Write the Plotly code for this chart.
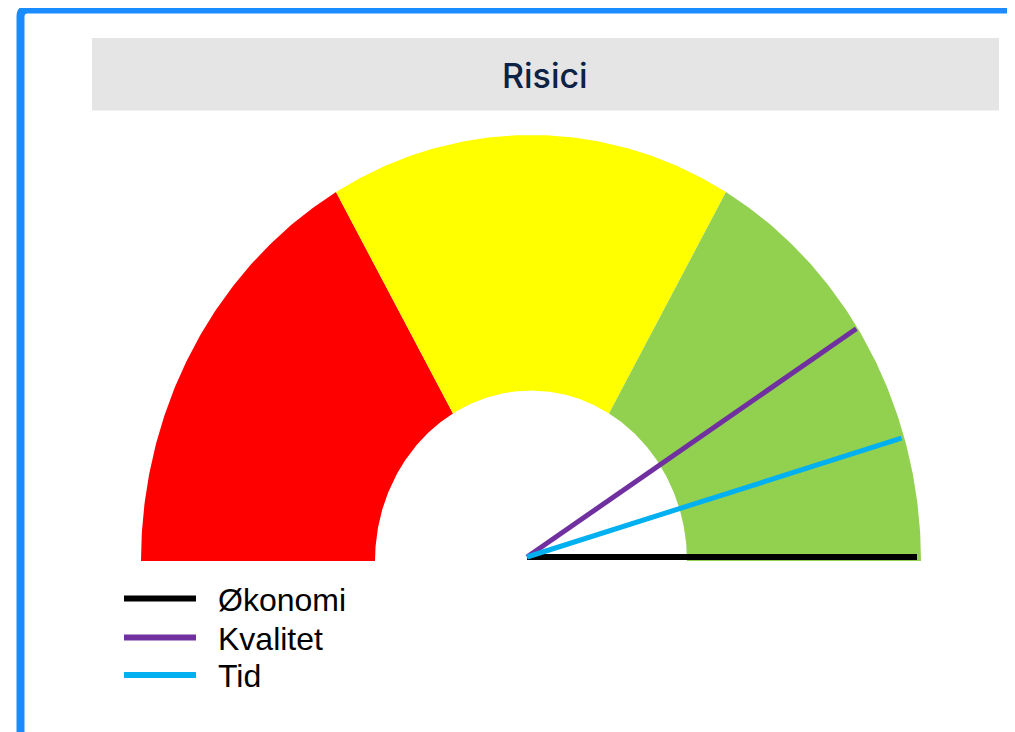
import numpy as np
import plotly.graph_objects as go

# ---- data ----
title_text = "Risici"
band_edges = [0, 100 / 3, 200 / 3, 100]          # gauge scale 0..100
band_colors = ["#ff0000", "#ffff00", "#92d050"]
needle_names = ["Økonomi", "Kvalitet", "Tid"]
needle_values = [100, 82, 91]
needle_colors = ["#000000", "#7030a0", "#00b0f0"]

# ---- layout geometry (pixels, in screenshot coordinates) ----
W, H = 1015, 732
OFF = 8                    # page body margin offset
CX, CY = 531 - OFF, 561 - OFF   # gauge centre in figure pixels
RX, RY = 390, 426          # px per unit radius (horizontal / vertical)
HOLE = 0.4
PIVOT_DX, PIVOT_DY = -4 / RX, 4 / RY


def val_to_angle(v):
    return np.pi * (1 - v / 100.0)


fig = go.Figure()

# bands
for i, col in enumerate(band_colors):
    a0, a1 = val_to_angle(band_edges[i]), val_to_angle(band_edges[i + 1])
    t = np.linspace(a0, a1, 120)
    xs = np.concatenate([np.cos(t), HOLE * np.cos(t[::-1])])
    ys = np.concatenate([np.sin(t), HOLE * np.sin(t[::-1])])
    fig.add_trace(go.Scatter(x=xs, y=ys, fill="toself", fillcolor=col,
                             mode="lines", line=dict(width=0, color=col),
                             hoverinfo="skip", showlegend=False))

# needles
for name, v, col in zip(needle_names, needle_values, needle_colors):
    a = val_to_angle(v)
    lw = 6 if col == "#000000" else 5
    fig.add_trace(go.Scatter(x=[PIVOT_DX, PIVOT_DX + np.cos(a)],
                             y=[PIVOT_DY, PIVOT_DY + np.sin(a)],
                             mode="lines", name=name,
                             line=dict(color=col, width=lw),
                             showlegend=False))


def px(x):
    return (x - OFF) / W


def py(y):
    return 1 - (y - OFF) / H


shapes = []
# blue frame (left + top, rounded corner)
bx, by, r = 20.5, 9.5, 7
shapes.append(dict(
    type="path", xref="paper", yref="paper",
    path=(f"M {px(bx)},{py(H + 40)} L {px(bx)},{py(by + r)} "
          f"Q {px(bx)},{py(by)} {px(bx + r)},{py(by)} L {px(W + 40)},{py(by)}"),
    line=dict(color="#1a8cff", width=8)))
# title box
shapes.append(dict(type="rect", xref="paper", yref="paper",
                   x0=px(92), x1=px(999), y0=py(38), y1=py(110.5),
                   fillcolor="#e5e5e5", line=dict(width=0), layer="below"))

annotations = [dict(text=title_text, xref="paper", yref="paper",
                    x=px(545), y=py(75), xanchor="center", yanchor="middle",
                    showarrow=False,
                    font=dict(family="Inter", size=34, weight=500,
                              color="#0d2244"))]

# manual legend
leg_y = [598.5, 637.5, 675]
for name, col, yy in zip(needle_names, needle_colors, leg_y):
    shapes.append(dict(type="line", xref="paper", yref="paper",
                       x0=px(124), x1=px(196), y0=py(yy), y1=py(yy),
                       line=dict(color=col, width=6)))
    annotations.append(dict(text=name, xref="paper", yref="paper",
                            x=px(216), y=py(yy + 1), xanchor="left",
                            yanchor="middle", showarrow=False,
                            font=dict(family="Liberation Sans", size=32,
                                      color="#000000")))

fig.update_layout(
    width=W, height=H,
    margin=dict(l=0, r=0, t=0, b=0),
    paper_bgcolor="#ffffff", plot_bgcolor="rgba(0,0,0,0)",
    xaxis=dict(range=[-CX / RX, (W - CX) / RX], visible=False,
               fixedrange=True, domain=[0, 1]),
    yaxis=dict(range=[-(H - CY) / RY, CY / RY], visible=False,
               fixedrange=True, domain=[0, 1]),
    shapes=shapes, annotations=annotations,
    showlegend=False,
)

fig.write_html("out.html")
